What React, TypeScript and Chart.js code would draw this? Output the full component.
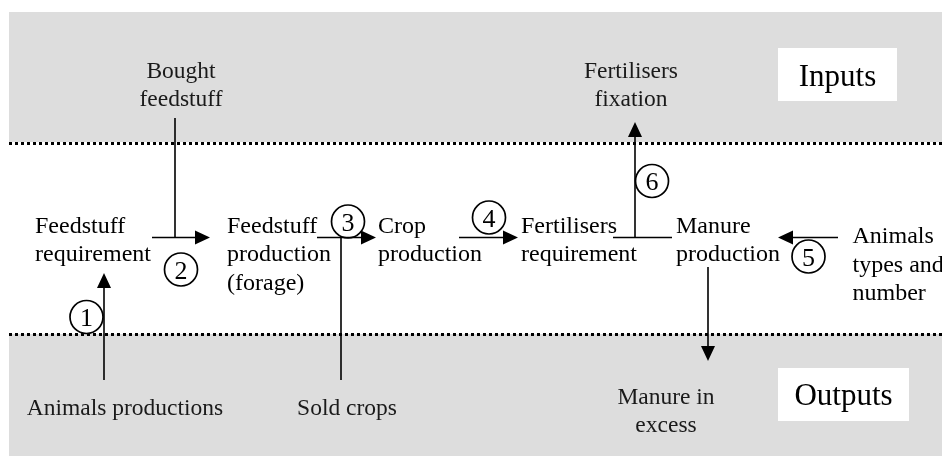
import React, { useEffect, useRef } from "react";
import { Chart, registerables } from "chart.js";

Chart.register(...registerables);

const W = 942;
const H = 457;

// grey bands (inputs / outputs areas)
const bandX0 = [9, 9];
const bandX1 = [942, 942];
const bandY0 = [12, 334];
const bandY1 = [142, 456];

// dotted separators
const dottedY = [143.5, 334.5];
const dottedX = [9, 942];

// node labels inside the farm (left aligned)
const nodeLines = [
  ["Feedstuff", "requirement"],
  ["Feedstuff", "production", "(forage)"],
  ["Crop", "production"],
  ["Fertilisers", "requirement"],
  ["Manure", "production"],
  ["Animals", "types and", "number"],
];
const nodeX = [35, 227, 378, 521, 676, 852.5];
const nodeY = [232.5, 232.5, 232.5, 232.5, 232.5, 243];

// external labels (centred)
const extLines = [
  ["Bought", "feedstuff"],
  ["Fertilisers", "fixation"],
  ["Animals productions"],
  ["Sold crops"],
  ["Manure in", "excess"],
];
const extX = [181, 631, 125, 347, 666];
const extY = [78, 78, 415, 415, 404];

// white label boxes
const boxLabels = ["Inputs", "Outputs"];
const boxX0 = [778, 778];
const boxX1 = [897, 909];
const boxY0 = [48, 368];
const boxY1 = [101, 421];
const boxTextY = [86, 405];

// arrows (head at the "to" end)
const arrowFromX = [104, 152, 317, 459, 838, 635, 708];
const arrowFromY = [380, 237.5, 237.5, 237.5, 237.5, 237.5, 267];
const arrowToX = [104, 210, 376, 518, 778, 635, 708];
const arrowToY = [273, 237.5, 237.5, 237.5, 237.5, 122, 361];

// plain connector lines
const lineFromX = [175, 341, 613];
const lineFromY = [118, 237.5, 237.5];
const lineToX = [175, 341, 672];
const lineToY = [237.5, 380, 237.5];

// numbered steps
const stepLabels = ["1", "2", "3", "4", "5", "6"];
const stepX = [86.5, 181, 348, 489, 808.5, 652];
const stepY = [317, 269.5, 221.5, 217.5, 256.5, 181];

const HEAD_LEN = 15;
const HEAD_HALF = 7;
const FONT = '"Liberation Serif", "Times New Roman", serif';

export default function App() {
  const ref = useRef<HTMLCanvasElement | null>(null);

  useEffect(() => {
    const canvas = ref.current;
    if (!canvas) return;

    const datasets: any[] = [];

    dottedY.forEach((y) => {
      datasets.push({
        type: "line",
        data: [
          { x: dottedX[0], y },
          { x: dottedX[1], y },
        ],
        borderColor: "#000",
        borderWidth: 3,
        borderDash: [3, 3],
        borderCapStyle: "butt",
        pointRadius: 0,
        showLine: true,
        clip: false,
      });
    });

    arrowFromX.forEach((fx, i) => {
      const tx = arrowToX[i];
      const ty = arrowToY[i];
      const fy = arrowFromY[i];
      const len = Math.hypot(tx - fx, ty - fy);
      const ux = (tx - fx) / len;
      const uy = (ty - fy) / len;
      datasets.push({
        type: "line",
        data: [
          { x: fx, y: fy },
          { x: tx - ux * (HEAD_LEN - 1), y: ty - uy * (HEAD_LEN - 1) },
        ],
        borderColor: "#000",
        borderWidth: 1.6,
        pointRadius: 0,
        showLine: true,
        clip: false,
      });
    });

    lineFromX.forEach((fx, i) => {
      datasets.push({
        type: "line",
        data: [
          { x: fx, y: lineFromY[i] },
          { x: lineToX[i], y: lineToY[i] },
        ],
        borderColor: "#000",
        borderWidth: 1.6,
        pointRadius: 0,
        showLine: true,
        clip: false,
      });
    });

    datasets.push({
      type: "scatter",
      data: stepX.map((x, i) => ({ x, y: stepY[i] })),
      pointStyle: "circle",
      pointRadius: 16.5,
      pointBorderWidth: 1.7,
      pointBorderColor: "#000",
      pointBackgroundColor: "rgba(0,0,0,0)",
      clip: false,
    });

    const diagramPlugin = {
      id: "diagram",
      beforeDatasetsDraw(chart: any) {
        const ctx = chart.ctx;
        const xs = chart.scales.x;
        const ys = chart.scales.y;
        ctx.save();
        ctx.fillStyle = "#dddddd";
        bandX0.forEach((x0, i) => {
          const px0 = xs.getPixelForValue(x0);
          const px1 = xs.getPixelForValue(bandX1[i]);
          const py0 = ys.getPixelForValue(bandY0[i]);
          const py1 = ys.getPixelForValue(bandY1[i]);
          ctx.fillRect(px0, py0, px1 - px0, py1 - py0);
        });
        ctx.fillStyle = "#ffffff";
        boxX0.forEach((x0, i) => {
          const px0 = xs.getPixelForValue(x0);
          const px1 = xs.getPixelForValue(boxX1[i]);
          const py0 = ys.getPixelForValue(boxY0[i]);
          const py1 = ys.getPixelForValue(boxY1[i]);
          ctx.fillRect(px0, py0, px1 - px0, py1 - py0);
        });
        ctx.restore();
      },
      afterDatasetsDraw(chart: any) {
        const ctx = chart.ctx;
        const xs = chart.scales.x;
        const ys = chart.scales.y;
        ctx.save();
        // arrow heads
        ctx.fillStyle = "#000";
        arrowFromX.forEach((fx, i) => {
          const fpx = xs.getPixelForValue(fx);
          const fpy = ys.getPixelForValue(arrowFromY[i]);
          const tpx = xs.getPixelForValue(arrowToX[i]);
          const tpy = ys.getPixelForValue(arrowToY[i]);
          const len = Math.hypot(tpx - fpx, tpy - fpy);
          const ux = (tpx - fpx) / len;
          const uy = (tpy - fpy) / len;
          const bx = tpx - ux * HEAD_LEN;
          const by = tpy - uy * HEAD_LEN;
          ctx.beginPath();
          ctx.moveTo(tpx, tpy);
          ctx.lineTo(bx - uy * HEAD_HALF, by + ux * HEAD_HALF);
          ctx.lineTo(bx + uy * HEAD_HALF, by - ux * HEAD_HALF);
          ctx.closePath();
          ctx.fill();
        });

        // node labels
        ctx.fillStyle = "#000";
        ctx.textBaseline = "alphabetic";
        ctx.font = `24px ${FONT}`;
        ctx.textAlign = "left";
        nodeLines.forEach((lines, i) => {
          lines.forEach((t, j) => {
            ctx.fillText(
              t,
              xs.getPixelForValue(nodeX[i]),
              ys.getPixelForValue(nodeY[i] + j * 28.7)
            );
          });
        });

        // external labels
        ctx.font = `23.5px ${FONT}`;
        ctx.fillStyle = "#1a1a1a";
        ctx.textAlign = "center";
        extLines.forEach((lines, i) => {
          lines.forEach((t, j) => {
            ctx.fillText(
              t,
              xs.getPixelForValue(extX[i]),
              ys.getPixelForValue(extY[i] + j * 28)
            );
          });
        });

        // box labels
        ctx.fillStyle = "#000";
        ctx.font = `31px ${FONT}`;
        boxLabels.forEach((t, i) => {
          const cx = (boxX0[i] + boxX1[i]) / 2;
          ctx.fillText(t, xs.getPixelForValue(cx), ys.getPixelForValue(boxTextY[i]));
        });

        // step numbers
        ctx.font = `26px ${FONT}`;
        ctx.textBaseline = "alphabetic";
        stepLabels.forEach((t, i) => {
          ctx.fillText(
            t,
            xs.getPixelForValue(stepX[i]),
            ys.getPixelForValue(stepY[i] + 9)
          );
        });
        ctx.restore();
      },
    };

    const chart = new Chart(canvas, {
      type: "scatter",
      data: { datasets },
      options: {
        animation: false,
        responsive: false,
        devicePixelRatio: 1,
        layout: { padding: 0, autoPadding: false },
        events: [],
        scales: {
          x: { type: "linear", min: 0, max: W, display: false },
          y: { type: "linear", min: 0, max: H, reverse: true, display: false },
        },
        plugins: {
          legend: { display: false },
          tooltip: { enabled: false },
        },
      },
      plugins: [diagramPlugin],
    } as any);

    return () => chart.destroy();
  }, []);

  return (
    <div
      style={{
        position: "absolute",
        left: 0,
        top: 0,
        width: W,
        height: H,
        background: "#ffffff",
      }}
    >
      <canvas ref={ref} width={W} height={H} style={{ width: W, height: H, display: "block" }} />
    </div>
  );
}
